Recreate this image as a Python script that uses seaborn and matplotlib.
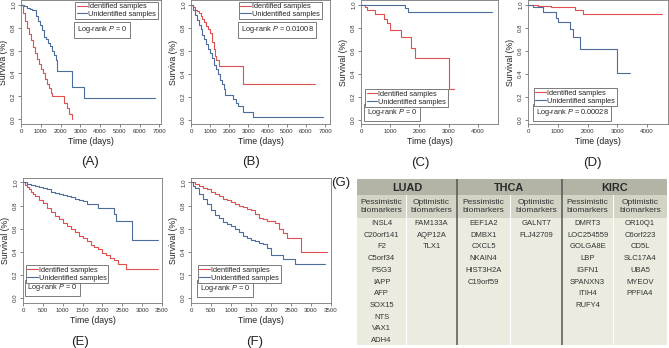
import numpy as np
import pandas as pd
import matplotlib
matplotlib.use("Agg")
import matplotlib.pyplot as plt
import seaborn as sns
from matplotlib.patches import Rectangle

sns.set_style("ticks")
plt.rcParams["font.family"] = ["Liberation Sans", "DejaVu Sans"]
plt.rcParams["mathtext.fontset"] = "custom"
plt.rcParams["mathtext.it"] = "Liberation Sans:italic"
plt.rcParams["mathtext.rm"] = "Liberation Sans"

RED = "#e0504f"
BLUE = "#4b6c9c"
GROUPS = ["Identified samples", "Unidentified samples"]

# ---------------- data ----------------
a_red_t = [0, 100, 200, 300, 400, 500, 600, 700, 800, 900, 1000, 1100, 1200, 1300, 1400, 1500, 1560, 2150, 2320, 2420, 2580]
a_red_s = [1.0, 0.93, 0.86, 0.80, 0.74, 0.69, 0.63, 0.58, 0.53, 0.48, 0.44, 0.40, 0.35, 0.31, 0.27, 0.23, 0.20, 0.145, 0.10, 0.05, 0.0]
a_blue_t = [0, 150, 300, 450, 550, 650, 750, 850, 950, 1050, 1150, 1250, 1350, 1450, 1550, 1650, 1750, 1820, 2600, 3180, 6800]
a_blue_s = [1.0, 0.99, 0.97, 0.96, 0.95, 0.95, 0.90, 0.86, 0.82, 0.78, 0.72, 0.70, 0.67, 0.64, 0.60, 0.56, 0.52, 0.42, 0.28, 0.185, 0.185]

b_red_t = [0, 100, 200, 300, 400, 500, 600, 700, 800, 900, 1000, 1100, 1200, 1250, 1300, 1460, 2700, 6500]
b_red_s = [1.0, 0.98, 0.96, 0.95, 0.93, 0.90, 0.88, 0.85, 0.82, 0.79, 0.76, 0.68, 0.62, 0.56, 0.52, 0.47, 0.31, 0.31]
b_blue_t = [0, 100, 200, 300, 400, 500, 600, 700, 800, 900, 1000, 1100, 1200, 1300, 1400, 1500, 1600, 1700, 1780, 2210, 2350, 2450, 2700, 3220, 6900]
b_blue_s = [1.0, 0.96, 0.91, 0.87, 0.83, 0.79, 0.74, 0.70, 0.66, 0.62, 0.58, 0.54, 0.48, 0.44, 0.40, 0.35, 0.31, 0.27, 0.22, 0.18, 0.15, 0.12, 0.07, 0.03, 0.03]

c_red_t = [0, 150, 200, 490, 800, 890, 980, 1380, 1720, 1860, 3000, 3170]
c_red_s = [1.0, 0.98, 0.96, 0.92, 0.88, 0.84, 0.78, 0.72, 0.63, 0.54, 0.27, 0.27]
c_blue_t = [0, 1515, 1610, 4500]
c_blue_s = [1.0, 0.97, 0.94, 0.94]

d_red_t = [0, 340, 780, 1570, 1850, 4500]
d_red_s = [1.0, 0.99, 0.98, 0.96, 0.92, 0.92]
d_blue_t = [0, 170, 500, 950, 1000, 1400, 1510, 1740, 3000, 3420]
d_blue_s = [1.0, 0.98, 0.94, 0.89, 0.85, 0.79, 0.72, 0.62, 0.41, 0.41]

e_red_t = [0, 50, 100, 150, 200, 250, 300, 400, 500, 600, 700, 800, 900, 1000, 1100, 1200, 1300, 1400, 1500, 1600, 1700, 1800, 1900, 2000, 2100, 2200, 2300, 2400, 2600, 3400]
e_red_s = [1.0, 0.98, 0.96, 0.94, 0.92, 0.90, 0.88, 0.85, 0.82, 0.78, 0.74, 0.71, 0.68, 0.65, 0.62, 0.60, 0.57, 0.54, 0.52, 0.49, 0.46, 0.44, 0.42, 0.39, 0.37, 0.35, 0.33, 0.29, 0.25, 0.25]
e_blue_t = [0, 100, 200, 300, 400, 500, 600, 700, 800, 900, 1000, 1100, 1200, 1300, 1400, 1500, 1600, 1900, 2300, 2350, 2750, 3400]
e_blue_s = [1.0, 0.99, 0.98, 0.97, 0.96, 0.95, 0.94, 0.92, 0.91, 0.90, 0.89, 0.88, 0.87, 0.86, 0.85, 0.84, 0.81, 0.78, 0.73, 0.67, 0.50, 0.50]

f_red_t = [0, 100, 200, 300, 400, 500, 600, 700, 800, 900, 1000, 1100, 1200, 1300, 1400, 1500, 1600, 1700, 1800, 1900, 2000, 2100, 2200, 2300, 2400, 2750, 3400]
f_red_s = [1.0, 0.985, 0.97, 0.955, 0.94, 0.92, 0.90, 0.88, 0.86, 0.845, 0.83, 0.81, 0.80, 0.79, 0.77, 0.76, 0.73, 0.69, 0.68, 0.67, 0.67, 0.65, 0.60, 0.56, 0.52, 0.40, 0.40]
f_blue_t = [0, 50, 100, 200, 300, 400, 500, 600, 700, 800, 900, 1000, 1100, 1200, 1300, 1400, 1500, 1600, 1700, 1800, 1900, 2000, 2300, 2600, 3350]
f_blue_s = [1.0, 0.97, 0.95, 0.90, 0.86, 0.81, 0.76, 0.72, 0.69, 0.66, 0.64, 0.62, 0.60, 0.57, 0.54, 0.52, 0.50, 0.49, 0.48, 0.47, 0.43, 0.37, 0.34, 0.29, 0.29]

p_values = ["0", "0.01008", "0", "0.00028", "0", "0"]
panel_labels = ["(A)", "(B)", "(C)", "(D)", "(E)", "(F)"]
y_labels = ["Surviva (%)", "Surviva (%)", "Survival (%)", "Survival (%)", "Survival (%)", "Survival (%)"]
y_ticks = [0.0, 0.2, 0.4, 0.6, 0.8, 1.0]

cancers = ["LUAD", "THCA", "KIRC"]
sub_headers = ["Pessimistic\nbiomarkers", "Optimistic\nbiomarkers"]
luad_pess = ["INSL4", "C20orf141", "F2", "C5orf34", "PSG3", "IAPP", "AFP", "SOX15", "NTS", "VAX1", "ADH4"]
luad_opt = ["FAM133A", "AQP12A", "TLX1"]
thca_pess = ["EEF1A2", "DMBX1", "CXCL5", "NKAIN4", "HIST3H2A", "C19orf59"]
thca_opt = ["GALNT7", "FLJ42709"]
kirc_pess = ["DMRT3", "LOC254559", "GOLGA8E", "LBP", "IGFN1", "SPANXN3", "ITIH4", "RUFY4"]
kirc_opt = ["OR10Q1", "C6orf223", "CD5L", "SLC17A4", "UBA5", "MYEOV", "PPFIA4"]

# ---------------- layout ----------------
W, H = 669, 348
fig = plt.figure(figsize=(6.69, 3.48), dpi=100)


def rect(l, t, r, b):
    return [l / W, 1 - b / H, (r - l) / W, (b - t) / H]


def frame(red_t, red_s, blue_t, blue_s):
    d1 = pd.DataFrame({"time": red_t, "surv": red_s, "group": GROUPS[0]})
    d2 = pd.DataFrame({"time": blue_t, "surv": blue_s, "group": GROUPS[1]})
    return pd.concat([d1, d2], ignore_index=True)


panels = [
    dict(df=frame(a_red_t, a_red_s, a_blue_t, a_blue_s), box=(21, 0, 161, 124), xlim=7080,
         xt=range(0, 7001, 1000), ylim=(-0.041, 1.041), leg="upper", lx=0.386, ly=0.985, py=0.715,
         lab=(90, 162)),
    dict(df=frame(b_red_t, b_red_s, b_blue_t, b_blue_s), box=(191, 0, 330, 124), xlim=7260,
         xt=range(0, 7001, 1000), ylim=(-0.035, 1.043), leg="upper", lx=0.345, ly=0.985, py=0.715,
         lab=(251, 162)),
    dict(df=frame(c_red_t, c_red_s, c_blue_t, c_blue_s), box=(361, 0, 498, 124), xlim=4690,
         xt=range(0, 4001, 1000), ylim=(-0.035, 1.043), leg="lower", lx=0.031, ly=0.137, py=0.048,
         lab=(420, 163)),
    dict(df=frame(d_red_t, d_red_s, d_blue_t, d_blue_s), box=(528, 0, 668, 124), xlim=4700,
         xt=range(0, 4001, 1000), ylim=(-0.035, 1.043), leg="lower", lx=0.043, ly=0.145, py=0.048,
         lab=(592, 163)),
    dict(df=frame(e_red_t, e_red_s, e_blue_t, e_blue_s), box=(23, 178, 162, 303), xlim=3500,
         xt=range(0, 3501, 500), ylim=(-0.043, 1.038), leg="lower", lx=0.02, ly=0.16, py=0.078,
         lab=(80, 342)),
    dict(df=frame(f_red_t, f_red_s, f_blue_t, f_blue_s), box=(191, 178, 331, 303), xlim=3500,
         xt=range(0, 3501, 500), ylim=(-0.043, 1.038), leg="lower", lx=0.05, ly=0.16, py=0.072,
         lab=(255, 342)),
]

for i, p in enumerate(panels):
    ax = fig.add_axes(rect(*p["box"]))
    sns.lineplot(data=p["df"], x="time", y="surv", hue="group", hue_order=GROUPS,
                 palette=[RED, BLUE], estimator=None, drawstyle="steps-post",
                 linewidth=0.8, ax=ax)
    ax.set_xlim(0, p["xlim"])
    ax.set_ylim(*p["ylim"])
    ax.set_xticks(list(p["xt"]))
    ax.set_xticklabels([str(v) for v in p["xt"]], fontsize=4.4, color="#333333")
    ax.set_yticks(y_ticks)
    ax.set_yticklabels([f"{v:.1f}" for v in y_ticks], fontsize=4.4, rotation=90,
                       va="center", color="#333333")
    ax.tick_params(length=2, width=0.5, pad=1.5, color="#555555")
    for s in ax.spines.values():
        s.set_visible(True)
        s.set_linewidth(0.6)
        s.set_color("#777777")
    ax.set_xlabel("Time (days)", fontsize=6.3, labelpad=2, color="#222222")
    ax.set_ylabel(y_labels[i], fontsize=6.3, labelpad=2, color="#222222")
    h, l = ax.get_legend_handles_labels()
    loc = "upper left" if p["leg"] == "upper" else "lower left"
    ax.legend(h, l, loc=loc, bbox_to_anchor=(p["lx"], p["ly"]), fontsize=5.3,
              frameon=True, fancybox=False, edgecolor="#666666", framealpha=1,
              handlelength=1.4, handletextpad=0.2, borderpad=0.2, labelspacing=0.05,
              borderaxespad=0)
    ax.get_legend().get_frame().set_linewidth(0.6)
    ax.text(p["lx"] + 0.012, p["py"], r"Log-rank $\it{P}$ = " + p_values[i],
            transform=ax.transAxes, fontsize=5.3, ha="left", va="bottom",
            bbox=dict(boxstyle="square,pad=0.35", fc="white", ec="#666666", lw=0.6))
    fig.text(p["lab"][0] / W, 1 - p["lab"][1] / H, panel_labels[i], fontsize=9.5,
             ha="center", va="center", color="#222222")

# ---------------- table (G) ----------------
tx = fig.add_axes(rect(357, 179, 667, 345))
tx.set_xlim(0, 310)
tx.set_ylim(166, 0)
tx.axis("off")

group_edges = [0, 100, 205, 310]
inner = [49, 153, 256]
HEAD_C, SUB_C, BODY_C = "#b3b4a5", "#d3d4c6", "#ebecdf"
TXT = "#333333"
tx.add_patch(Rectangle((0, 0), 310, 16, fc=HEAD_C, ec="none"))
tx.add_patch(Rectangle((0, 16), 310, 23, fc=SUB_C, ec="none"))
tx.add_patch(Rectangle((0, 39), 310, 127, fc=BODY_C, ec="none"))

cols = [luad_pess, luad_opt, thca_pess, thca_opt, kirc_pess, kirc_opt]
for g in range(3):
    x0, x1 = group_edges[g], group_edges[g + 1]
    tx.text((x0 + x1) / 2, 8.5, cancers[g], fontsize=7.8, fontweight="bold",
            ha="center", va="center", color="#2a2a2a")
    splits = [x0, inner[g], x1]
    for k in range(2):
        cx = (splits[k] + splits[k + 1]) / 2
        tx.text(cx, 27.5, sub_headers[k], fontsize=6.0, ha="center", va="center",
                color=TXT, linespacing=1.05)
        for j, name in enumerate(cols[2 * g + k]):
            tx.text(cx, 44.5 + 11.7 * j, name, fontsize=5.5, ha="center",
                    va="center", color=TXT)
    tx.plot([inner[g], inner[g]], [16, 166], color="white", lw=0.8)
for x in group_edges[1:3]:
    tx.plot([x, x], [0, 166], color="#555555", lw=1.1)

fig.text(341 / W, 1 - 183 / H, "(G)", fontsize=9.5, ha="center", va="center", color="#222222")

fig.savefig("out.png", dpi=100)
